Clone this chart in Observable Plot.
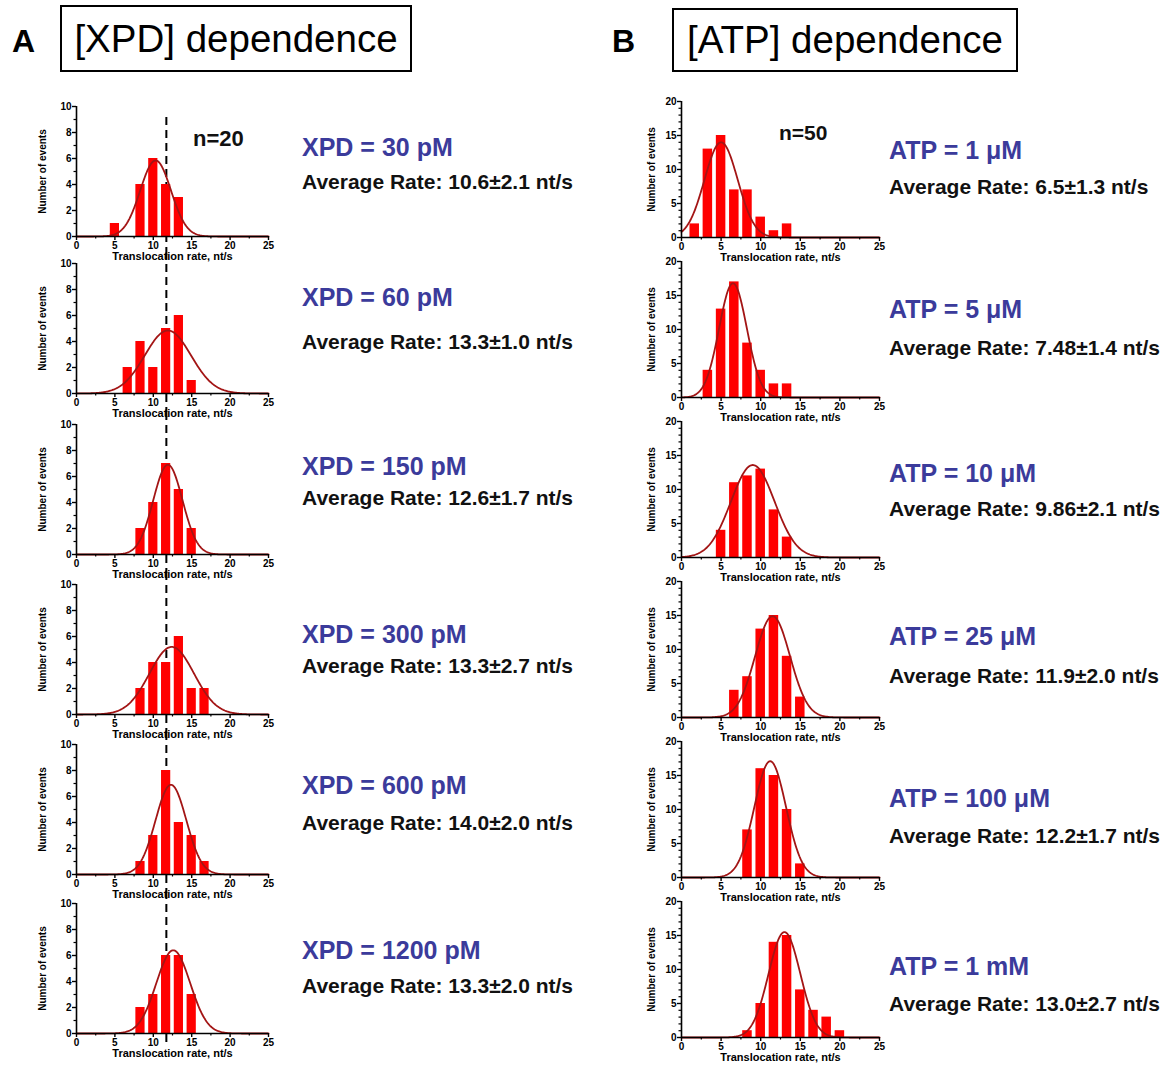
<!DOCTYPE html>
<html><head><meta charset="utf-8">
<script src="https://cdn.jsdelivr.net/npm/d3@7"></script>
<script src="https://cdn.jsdelivr.net/npm/@observablehq/plot@0.6"></script>
<style>
body{margin:0;background:#fff;font-family:"Liberation Sans",Arial,Helvetica,sans-serif;}
#root{position:relative;width:1164px;height:1068px;overflow:hidden;background:#fff;}
.abs{position:absolute;}
.letter{font-weight:bold;font-size:32px;line-height:1;}
.box{border:2px solid #000;box-sizing:border-box;display:flex;align-items:center;justify-content:center;font-size:38.5px;white-space:nowrap;}
.cond{font-weight:bold;font-size:25px;color:#3b3b9b;white-space:nowrap;transform:translateY(-50%);line-height:1;}
.avg{font-weight:bold;font-size:21px;color:#111;white-space:nowrap;transform:translateY(-50%);line-height:1;}
.nlab{font-weight:bold;font-size:21px;color:#111;white-space:nowrap;transform:translateY(-50%);line-height:1;}
.panel svg{overflow:visible;}
</style></head>
<body><div id="root"></div>
<script>
// ---------------- data ----------------
const binCenters = [1.67, 3.33, 5.0, 6.67, 8.33, 10.0, 11.67, 13.33, 15.0, 16.67, 18.33, 20.0];
const xTicks = [0, 5, 10, 15, 20, 25];
const xMinorTicks = [2.5, 7.5, 12.5, 17.5, 22.5];
const xpdYTicks = [0, 2, 4, 6, 8, 10];
const xpdYMinorTicks = [1, 3, 5, 7, 9];
const atpYTicks = [0, 5, 10, 15, 20];
const atpYMinorTicks = [1, 2, 3, 4, 6, 7, 8, 9, 11, 12, 13, 14, 16, 17, 18, 19];

const panelTitles = ["[XPD] dependence", "[ATP] dependence"];
const panelLetters = ["A", "B"];
const sampleSizes = ["n=20", "n=50"];
const xAxisLabel = "Translocation rate, nt/s";
const yAxisLabel = "Number of events";
const referenceRate = 11.7; // dashed guide line, nt/s

const xpdConditions = ["XPD = 30 pM", "XPD = 60 pM", "XPD = 150 pM", "XPD = 300 pM", "XPD = 600 pM", "XPD = 1200 pM"];
const xpdAverageRates = ["10.6±2.1", "13.3±1.0", "12.6±1.7", "13.3±2.7", "14.0±2.0", "13.3±2.0"];
const xpdCounts = [
  [0, 0, 1, 0, 4, 6, 4, 3, 0, 0, 0, 0],
  [0, 0, 0, 2, 4, 2, 5, 6, 1, 0, 0, 0],
  [0, 0, 0, 0, 2, 4, 7, 5, 2, 0, 0, 0],
  [0, 0, 0, 0, 2, 4, 4, 6, 2, 2, 0, 0],
  [0, 0, 0, 0, 1, 3, 8, 4, 3, 1, 0, 0],
  [0, 0, 0, 0, 2, 3, 6, 6, 3, 0, 0, 0]
];
const xpdFitMean = [10.3, 11.9, 11.9, 12.4, 12.3, 12.6];
const xpdFitSd   = [2.0, 3.0, 1.9, 2.9, 2.0, 2.2];
const xpdFitPeak = [5.85, 4.85, 6.9, 5.2, 6.9, 6.4];

const atpConditions = ["ATP = 1 μM", "ATP = 5 μM", "ATP = 10 μM", "ATP = 25 μM", "ATP = 100 μM", "ATP = 1 mM"];
const atpAverageRates = ["6.5±1.3", "7.48±1.4", "9.86±2.1", "11.9±2.0", "12.2±1.7", "13.0±2.7"];
const atpCounts = [
  [2, 13, 15, 7, 7, 3, 1, 2, 0, 0, 0, 0],
  [0, 4, 13, 17, 8, 4, 2, 2, 0, 0, 0, 0],
  [0, 0, 4, 11, 12, 13, 7, 3, 0, 0, 0, 0],
  [0, 0, 0, 4, 6, 13, 15, 9, 3, 0, 0, 0],
  [0, 0, 0, 0, 7, 16, 15, 10, 2, 0, 0, 0],
  [0, 0, 0, 0, 1, 5, 14, 15, 7, 4, 3, 1]
];
const atpFitMean = [5.0, 6.5, 9.0, 11.5, 11.2, 13.0];
const atpFitSd   = [2.1, 1.75, 2.75, 2.2, 2.0, 2.0];
const atpFitPeak = [14.0, 16.8, 13.6, 14.9, 17.1, 15.5];

// ---------------- layout ----------------
const root = document.getElementById("root");
const FONT = '"Liberation Sans", Arial, Helvetica, sans-serif';
const BAR_HALF = 0.6;

function div(cls, text, left, top, extra) {
  const d = document.createElement("div");
  d.className = "abs " + cls;
  d.textContent = text;
  d.style.left = left + "px";
  d.style.top = top + "px";
  if (extra) Object.assign(d.style, extra);
  root.appendChild(d);
  return d;
}

// headers
div("letter", panelLetters[0], 12, 25);
div("letter", panelLetters[1], 612, 25);
div("box", panelTitles[0], 60, 5, {width: "352px", height: "67px"});
div("box", panelTitles[1], 672, 8, {width: "346px", height: "64px"});

function fitCurve(mean, sd, peak) {
  return d3.range(0, 25.001, 0.1).map(x => ({x, y: peak * Math.exp(-((x - mean) ** 2) / (2 * sd * sd))}));
}

function makePanel(o) {
  const mt = 12, mb = 36, ml = o.ml, mr = 14;
  const width = ml + o.plotW + mr;
  const height = mt + o.plotH + mb;
  const bars = binCenters.map((x, i) => ({x, n: o.counts[i]})).filter(d => d.n > 0);
  const marks = [];
  if (o.dash) {
    marks.push(Plot.ruleX([referenceRate], {stroke: "#000", strokeWidth: 2, strokeDasharray: "8,5",
      insetTop: o.dash[0], insetBottom: o.dash[1]}));
  }
  marks.push(
    Plot.rect(bars, {x1: d => d.x - BAR_HALF, x2: d => d.x + BAR_HALF, y1: 0, y2: "n", fill: "#ff0000"}),
    Plot.line(fitCurve(o.mean, o.sd, o.peak), {x: "x", y: "y", stroke: "#a31515", strokeWidth: 1.8}),
    Plot.ruleX([0], {stroke: "#000", strokeWidth: 1.6}),
    Plot.ruleY([0], {stroke: "#000", strokeWidth: 1.6}),
    Plot.axisX({ticks: xTicks, tickSize: 4, tickPadding: 1, strokeWidth: 1.4, label: null}),
    Plot.axisX({ticks: xMinorTicks, tickSize: 2.5, strokeWidth: 1.2, text: null, label: null}),
    Plot.axisY({ticks: o.yTicks, tickSize: 4, tickPadding: 1, strokeWidth: 1.4, label: null}),
    Plot.axisY({ticks: o.yMinor, tickSize: 2.5, strokeWidth: 1.2, text: null, label: null}),
    Plot.text([yAxisLabel], {frameAnchor: "left", textAnchor: "middle", rotate: -90, dx: -o.yLabelOffset, fontSize: 10, fontWeight: "bold"}),
    Plot.text([xAxisLabel], {frameAnchor: "bottom", textAnchor: "middle", dy: 23, fontSize: 11, fontWeight: "bold"})
  );
  const svg = Plot.plot({
    width, height,
    marginTop: mt, marginBottom: mb, marginLeft: ml, marginRight: mr,
    x: {domain: [0, 25]},
    y: {domain: [0, o.yMax]},
    style: {background: "transparent", fontFamily: FONT, fontSize: "10px", fontWeight: "bold", color: "#000", overflow: "visible"},
    marks
  });
  const wrap = document.createElement("div");
  wrap.className = "abs panel";
  wrap.style.left = (o.axisLeft - ml) + "px";
  wrap.style.top = (o.plotTop - mt) + "px";
  wrap.appendChild(svg);
  root.appendChild(wrap);
}

// left column (XPD)
const leftTops = [106, 263, 424, 584, 744, 903];
const leftPlotH = 130;
const dashStart = 117, dashEnd = 1045;
leftTops.forEach((top, i) => {
  const segTop = i === 0 ? dashStart : top - 12;
  const segBottom = i === leftTops.length - 1 ? dashEnd : leftTops[i + 1] - 12;
  makePanel({
    axisLeft: 76, plotTop: top, plotW: 192, plotH: leftPlotH, ml: 46,
    yMax: 10, yTicks: xpdYTicks, yMinor: xpdYMinorTicks, yLabelOffset: 34,
    counts: xpdCounts[i], mean: xpdFitMean[i], sd: xpdFitSd[i], peak: xpdFitPeak[i],
    dash: [segTop - top, -(segBottom - (top + leftPlotH))]
  });
});
// right column (ATP)
const rightTops = [101, 261, 421, 581, 741, 901];
rightTops.forEach((top, i) => {
  makePanel({
    axisLeft: 681, plotTop: top, plotW: 198, plotH: 136, ml: 45,
    yMax: 20, yTicks: atpYTicks, yMinor: atpYMinorTicks, yLabelOffset: 30,
    counts: atpCounts[i], mean: atpFitMean[i], sd: atpFitSd[i], peak: atpFitPeak[i]
  });
});

// annotations
div("nlab", sampleSizes[0], 193, 139, {fontSize: "22px"});
div("nlab", sampleSizes[1], 779, 132);
const leftCondY = [147, 297, 466, 634, 785, 950];
const leftAvgY = [181, 341, 497, 665, 822, 985];
const rightCondY = [150, 309, 473, 636, 798, 966];
const rightAvgY = [186, 347, 508, 675, 835, 1003];
xpdConditions.forEach((t, i) => {
  div("cond", t, 302, leftCondY[i]);
  div("avg", "Average Rate: " + xpdAverageRates[i] + " nt/s", 302, leftAvgY[i]);
});
atpConditions.forEach((t, i) => {
  div("cond", t, 889, rightCondY[i]);
  div("avg", "Average Rate: " + atpAverageRates[i] + " nt/s", 889, rightAvgY[i]);
});
</script>
</body></html>
